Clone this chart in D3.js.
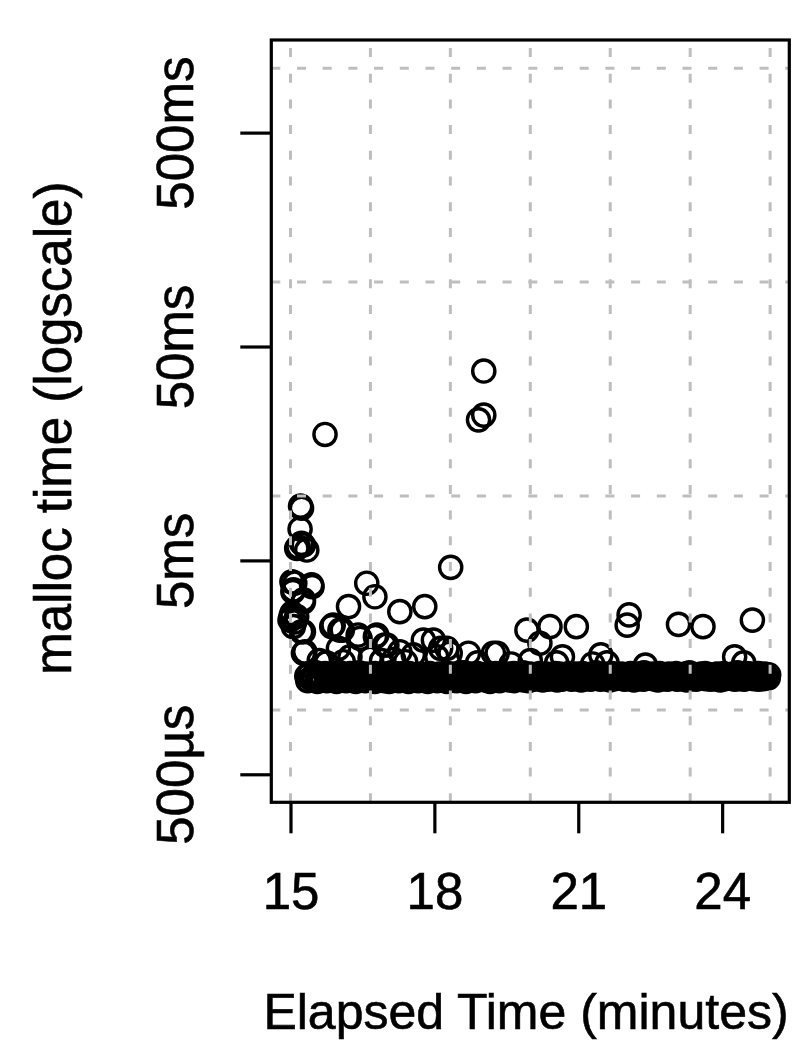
<!DOCTYPE html>
<html>
<head>
<meta charset="utf-8">
<script src="https://cdn.jsdelivr.net/npm/d3@7"></script>
<style>
  html, body { margin: 0; padding: 0; background: #ffffff; }
  svg { display: block; }
  text { font-family: "Liberation Sans", Arial, Helvetica, sans-serif; fill: #000; stroke: #000; stroke-width: 0.6px; }
</style>
</head>
<body>
<div id="chart"></div>
<script>
// ---------- DATA ----------
// x: elapsed time (minutes), y: malloc time (milliseconds)
const xTickValues = [15, 18, 21, 24];
const xTickLabels = ["15", "18", "21", "24"];
const yTickValues = [0.5, 5, 50, 500];
const yTickLabels = ["500\u00b5s", "5ms", "50ms", "500ms"];
const xGridSeconds = [900, 1000, 1100, 1200, 1300, 1400, 1500];
const yGridValues = [1, 10, 100, 1000];

// dense band of regular mallocs
const bandX = [
  15.34,15.39,15.44,15.48,15.53,15.58,15.63,15.67,15.72,15.77,
  15.82,15.86,15.91,15.96,16.01,16.05,16.10,16.15,16.20,16.24,
  16.29,16.34,16.39,16.43,16.48,16.53,16.58,16.62,16.67,16.72,
  16.77,16.81,16.86,16.91,16.96,17.00,17.05,17.10,17.15,17.19,
  17.24,17.29,17.34,17.38,17.43,17.48,17.53,17.57,17.62,17.67,
  17.72,17.76,17.81,17.86,17.91,17.95,18.00,18.05,18.10,18.14,
  18.19,18.24,18.29,18.33,18.38,18.43,18.48,18.52,18.57,18.62,
  18.67,18.71,18.76,18.81,18.86,18.90,18.95,19.00,19.05,19.09,
  19.14,19.19,19.24,19.28,19.33,19.38,19.43,19.47,19.52,19.57,
  19.62,19.66,19.71,19.76,19.81,19.85,19.90,19.95,20.00,20.04,
  20.09,20.14,20.19,20.23,20.28,20.33,20.38,20.42,20.47,20.52,
  20.57,20.61,20.66,20.71,20.76,20.80,20.85,20.90,20.95,20.99,
  21.04,21.09,21.14,21.18,21.23,21.28,21.33,21.37,21.42,21.47,
  21.52,21.56,21.61,21.66,21.71,21.75,21.80,21.85,21.90,21.94,
  21.99,22.04,22.09,22.13,22.18,22.23,22.28,22.32,22.37,22.42,
  22.47,22.51,22.56,22.61,22.66,22.70,22.75,22.80,22.85,22.89,
  22.94,22.99,23.04,23.08,23.13,23.18,23.23,23.27,23.32,23.37,
  23.42,23.46,23.51,23.56,23.61,23.65,23.70,23.75,23.80,23.84,
  23.89,23.94,23.99,24.03,24.08,24.13,24.18,24.22,24.27,24.32,
  24.37,24.41,24.46,24.51,24.56,24.60,24.65,24.70,24.75,24.79,
  24.84,24.89,24.94,24.97
];
const bandY = [
  1.44,1.47,1.41,1.45,1.49,1.42,1.46,1.40,1.48,1.43,
  1.45,1.41,1.47,1.43,1.50,1.42,1.46,1.40,1.44,1.48,
  1.42,1.46,1.41,1.49,1.44,1.40,1.47,1.43,1.45,1.41,
  1.48,1.42,1.46,1.44,1.40,1.47,1.43,1.49,1.41,1.45,
  1.43,1.47,1.40,1.46,1.42,1.48,1.44,1.41,1.46,1.43,
  1.47,1.42,1.45,1.40,1.48,1.44,1.46,1.42,1.47,1.43,
  1.45,1.41,1.48,1.44,1.42,1.47,1.43,1.46,1.41,1.49,
  1.44,1.42,1.47,1.45,1.43,1.48,1.41,1.46,1.44,1.42,
  1.47,1.43,1.45,1.48,1.42,1.46,1.44,1.41,1.47,1.45,
  1.43,1.48,1.44,1.42,1.46,1.49,1.43,1.45,1.47,1.42,
  1.46,1.44,1.48,1.43,1.45,1.47,1.42,1.46,1.44,1.48,
  1.43,1.47,1.45,1.42,1.46,1.48,1.44,1.43,1.47,1.45,
  1.44,1.48,1.42,1.46,1.45,1.47,1.43,1.49,1.44,1.46,
  1.42,1.47,1.45,1.43,1.48,1.44,1.46,1.42,1.47,1.45,
  1.43,1.46,1.48,1.44,1.42,1.47,1.45,1.43,1.49,1.44,
  1.46,1.42,1.47,1.45,1.43,1.48,1.44,1.46,1.42,1.47,
  1.45,1.43,1.48,1.44,1.46,1.42,1.47,1.45,1.49,1.43,
  1.46,1.44,1.42,1.47,1.45,1.48,1.43,1.46,1.44,1.42,
  1.47,1.45,1.43,1.48,1.44,1.46,1.42,1.47,1.45,1.49,
  1.43,1.46,1.44,1.48,1.42,1.47,1.45,1.43,1.48,1.46,
  1.44,1.47,1.45,1.46
];
// lower edge of the band
const band2X = [
  15.36,15.46,15.56,15.66,15.76,15.86,15.96,16.06,16.16,16.26,
  16.36,16.46,16.56,16.66,16.76,16.86,16.96,17.06,17.16,17.26,
  17.36,17.46,17.56,17.66,17.76,17.86,17.96,18.06,18.16,18.26,
  18.36,18.46,18.56,18.66,18.76,18.86,18.96,19.06,19.16,19.26,
  19.36,19.46,19.56,19.66,19.76,19.86,19.96,20.06,20.16,20.26,
  20.36,20.46,20.56,20.66,20.76,20.86,20.96,21.06,21.16,21.26,
  21.36,21.46,21.56,21.66,21.76,21.86,21.96,22.06,22.16,22.26,
  22.36,22.46,22.56,22.66,22.76,22.86,22.96,23.06,23.16,23.26,
  23.36,23.46,23.56,23.66,23.76,23.86,23.96,24.06,24.16,24.26,
  24.36,24.46,24.56,24.66,24.76,24.86,24.96
];
const band2Y = [
  1.37,1.38,1.36,1.39,1.37,1.38,1.36,1.38,1.37,1.39,
  1.36,1.38,1.37,1.39,1.36,1.38,1.37,1.36,1.38,1.37,
  1.39,1.36,1.38,1.37,1.38,1.36,1.39,1.37,1.38,1.36,
  1.38,1.37,1.39,1.36,1.38,1.37,1.39,1.38,1.36,1.38,
  1.37,1.39,1.38,1.37,1.39,1.38,1.37,1.39,1.40,1.38,
  1.39,1.40,1.38,1.39,1.41,1.39,1.40,1.38,1.40,1.39,
  1.41,1.39,1.40,1.38,1.40,1.41,1.39,1.40,1.38,1.40,
  1.39,1.41,1.40,1.38,1.40,1.39,1.41,1.39,1.40,1.38,
  1.40,1.39,1.41,1.40,1.39,1.40,1.38,1.40,1.41,1.39,
  1.40,1.39,1.41,1.40,1.39,1.40,1.41
];

// slower mallocs (outliers)
const outlierX = [
  15.72, 18.92, 19.03, 19.03, 18.34,
  15.21, 15.23, 15.20, 15.23, 15.16, 15.27, 15.13, 15.34,
  15.03, 15.06, 15.44, 15.27, 15.03, 15.13, 14.99, 15.06, 15.27, 15.30,
  15.09, 15.45, 15.05, 15.27, 15.01, 15.09, 15.23, 15.27,
  16.59, 16.76, 16.21, 17.28, 17.80, 15.86, 16.03, 15.89, 16.08, 16.41,
  16.77, 16.96, 17.77, 17.98, 18.13, 18.71, 19.23, 19.31, 19.93, 20.20,
  20.41, 20.96, 22.06, 22.02, 23.09, 23.60, 24.63, 24.26, 21.47, 20.67,
  16.00, 16.45, 16.80, 17.01, 17.28, 17.56, 18.05, 18.33, 16.24, 16.66,
  18.26, 17.40, 18.90, 19.60, 20.00, 20.55, 21.30, 21.60, 22.40, 24.45,
  16.90, 17.15, 15.60, 15.75, 16.10
];
const outlierY = [
  19.4, 22.7, 23.9, 38.4, 4.64,
  8.98, 8.76, 7.01, 6.01, 5.79, 5.90, 5.69, 5.59,
  3.97, 3.64, 3.84, 3.27, 2.83, 2.73, 2.63, 2.45, 2.32, 1.87,
  3.91, 3.77, 3.57, 3.20, 2.73, 2.58, 2.32, 1.84,
  3.91, 3.38, 3.04, 2.88, 3.04, 2.45, 2.36, 2.49, 2.36, 2.24,
  2.20, 2.01, 2.12, 2.12, 1.94, 1.84, 1.84, 1.84, 2.36, 2.05,
  2.45, 2.45, 2.78, 2.49, 2.51, 2.45, 2.63, 1.77, 1.81, 1.77,
  1.94, 2.16, 2.24, 2.01, 1.87, 1.81, 1.77, 1.84, 1.77, 1.74,
  1.94, 1.68, 1.66, 1.64, 1.70, 1.66, 1.64, 1.66, 1.62, 1.66,
  1.70, 1.72, 1.70, 1.66, 1.68
];

// ---------- CHART ----------
const W = 793, H = 1045;
const plotLeft = 271.3, plotRight = 789.3, plotTop = 40, plotBottom = 802.3;
const FONT = 51;

const points = bandX.map((x, i) => ({ x, y: bandY[i] }))
  .concat(band2X.map((x, i) => ({ x, y: band2Y[i] })))
  .concat(outlierX.map((x, i) => ({ x, y: outlierY[i] })));

const x = d3.scaleLinear().domain([14.6, 25.4]).range([plotLeft, plotRight]);
const y = d3.scaleLog().domain([Math.pow(10, -0.432), Math.pow(10, 3.132)]).range([plotBottom, plotTop]);

const svg = d3.select("#chart").append("svg")
  .attr("width", W).attr("height", H)
  .attr("viewBox", `0 0 ${W} ${H}`);

svg.append("rect").attr("width", W).attr("height", H).attr("fill", "#fff");

// points
svg.append("g")
  .selectAll("circle")
  .data(points)
  .join("circle")
  .attr("cx", d => x(d.x))
  .attr("cy", d => y(d.y))
  .attr("r", 11.1)
  .attr("fill", "none")
  .attr("stroke", "#000")
  .attr("stroke-width", 3.4);

// grid (drawn over the points, as in the original)
const grid = svg.append("g")
  .attr("stroke", "#bebebe")
  .attr("stroke-width", 3)
  .attr("stroke-dasharray", "9 16.7");
grid.selectAll("line.v")
  .data(xGridSeconds)
  .join("line")
  .attr("class", "v")
  .attr("x1", d => x(d / 60)).attr("x2", d => x(d / 60))
  .attr("y1", plotBottom).attr("y2", plotTop);
grid.selectAll("line.h")
  .data(yGridValues)
  .join("line")
  .attr("class", "h")
  .attr("x1", plotLeft).attr("x2", plotRight)
  .attr("y1", d => y(d)).attr("y2", d => y(d));

// axes
const yAxis = d3.axisLeft(y)
  .tickValues(yTickValues)
  .tickSize(31)
  .tickFormat((d, i) => yTickLabels[i]);
const gy = svg.append("g")
  .attr("transform", `translate(${plotLeft},0)`)
  .call(yAxis);
gy.select(".domain").remove();
gy.selectAll(".tick line").attr("stroke", "#000").attr("stroke-width", 3.2);
gy.selectAll(".tick text")
  .attr("transform", "rotate(-90)")
  .attr("x", 0)
  .attr("y", 193 - plotLeft)
  .attr("dy", null)
  .attr("text-anchor", "middle")
  .style("font-size", FONT + "px")
  .style("font-family", "'Liberation Sans', Arial, Helvetica, sans-serif")
  .attr("fill", "#000");

const xAxis = d3.axisBottom(x)
  .tickValues(xTickValues)
  .tickSize(31)
  .tickFormat((d, i) => xTickLabels[i]);
const gx = svg.append("g")
  .attr("transform", `translate(0,${plotBottom})`)
  .call(xAxis);
gx.select(".domain").remove();
gx.selectAll(".tick line").attr("stroke", "#000").attr("stroke-width", 3.2);
gx.selectAll(".tick text")
  .attr("y", 909 - plotBottom)
  .attr("dy", null)
  .attr("text-anchor", "middle")
  .style("font-size", FONT + "px")
  .style("font-family", "'Liberation Sans', Arial, Helvetica, sans-serif")
  .attr("fill", "#000");

// box
svg.append("rect")
  .attr("x", plotLeft).attr("y", plotTop)
  .attr("width", plotRight - plotLeft).attr("height", plotBottom - plotTop)
  .attr("fill", "none").attr("stroke", "#000").attr("stroke-width", 3.2);

// axis titles
svg.append("text")
  .attr("x", 526)
  .attr("y", 1029)
  .attr("text-anchor", "middle")
  .style("font-size", "50px")
  .text("Elapsed Time (minutes)");

svg.append("text")
  .attr("transform", `translate(71,${(plotTop + plotBottom) / 2 + 7}) rotate(-90)`)
  .attr("text-anchor", "middle")
  .style("font-size", FONT + "px")
  .text("malloc time (logscale)");
</script>
</body>
</html>
